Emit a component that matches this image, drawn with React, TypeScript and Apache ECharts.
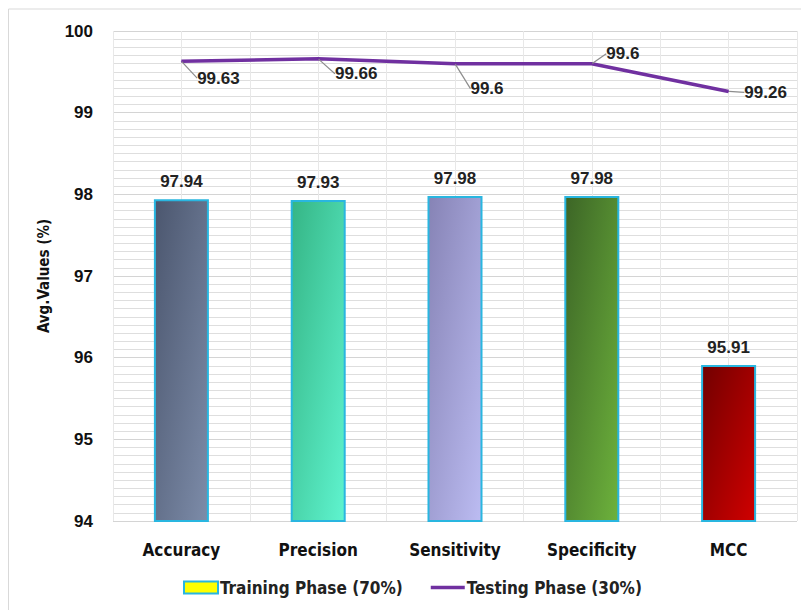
import React, { useEffect, useRef } from "react";
import * as echarts from "echarts";

const categories = ["Accuracy", "Precision", "Sensitivity", "Specificity", "MCC"];
const trainingValues = [97.94, 97.93, 97.98, 97.98, 95.91];
const testingValues = [99.63, 99.66, 99.6, 99.6, 99.26];
const barGradients: [string, string][] = [
  ["#4b566e", "#7d8ca9"],
  ["#35b585", "#5ff4cf"],
  ["#8683b5", "#bcbcf2"],
  ["#3c6526", "#6db23c"],
  ["#720000", "#d00000"],
];
// label shifts for the testing-phase values (dx, dy in px)
const testingLabelShift: [number, number][] = [
  [37, 17],
  [38, 15],
  [32, 25],
  [31, -10],
  [37, 1],
];

const COND = "'DejaVu Sans Condensed', 'Liberation Sans Narrow', sans-serif";
const SANS = "'Liberation Sans', Arial, sans-serif";

export default function App() {
  const ref = useRef<HTMLDivElement>(null);

  useEffect(() => {
    if (!ref.current) return;
    const chart = echarts.init(ref.current, undefined, { renderer: "svg" });

    const barData = trainingValues.map((v, i) => ({
      value: v,
      itemStyle: {
        color: new echarts.graphic.LinearGradient(0, 0, 1, 1, [
          { offset: 0, color: barGradients[i][0] },
          { offset: 1, color: barGradients[i][1] },
        ]),
      },
    }));

    chart.setOption({
      animation: false,
      backgroundColor: "#ffffff",
      graphic: [
        {
          type: "rect",
          shape: { x: 0.5, y: 1, width: 798, height: 620 },
          style: { fill: "none", stroke: "#d9d9d9", lineWidth: 1 },
          silent: true,
          z: -10,
        },
      ],
      grid: { left: 105, top: 23, right: 12, bottom: 89, containLabel: false },
      legend: {
        left: 170,
        top: 566,
        itemWidth: 34,
        itemHeight: 12,
        itemGap: 28,
        textStyle: { fontFamily: COND, fontSize: 17, fontWeight: "bold", color: "#222", padding: [0, 0, 0, -3] },
        data: [
          {
            name: "Training Phase (70%)",
            icon: "rect",
            itemStyle: { color: "#ffff00", borderColor: "#29b6e0", borderWidth: 2 },
          },
          {
            name: "Testing Phase (30%)",
            icon: "path://M0 0H34V3.5H0Z",
            itemStyle: { color: "#7030a0" },
          },
        ],
      },
      xAxis: [
        {
          type: "category",
          data: categories,
          axisLine: { show: false },
          axisTick: { show: false },
          axisLabel: {
            margin: 20,
            fontFamily: COND,
            fontSize: 17,
            fontWeight: "bold",
            color: "#111",
          },
          splitLine: { show: true, lineStyle: { color: "#d4d4d4", width: 1 } },
        },
        {
          type: "value",
          min: 0,
          max: 10,
          interval: 1,
          show: true,
          position: "bottom",
          axisLine: { show: false },
          axisTick: { show: false },
          axisLabel: { show: false },
          splitLine: { show: true, lineStyle: { color: "#e8e8e8", width: 1 } },
        },
      ],
      yAxis: {
        type: "value",
        min: 94,
        max: 100,
        interval: 1,
        name: "Avg.Values (%)",
        nameLocation: "middle",
        nameGap: 62,
        nameTextStyle: { fontFamily: COND, fontSize: 15, fontWeight: "bold", color: "#111" },
        axisLine: { show: false },
        axisTick: { show: false },
        axisLabel: { margin: 20, fontFamily: SANS, fontSize: 17, fontWeight: "bold", color: "#111" },
        splitLine: { show: true, lineStyle: { color: "#d4d4d4", width: 1 } },
        minorTick: { show: false, splitNumber: 10 },
        minorSplitLine: { show: true, lineStyle: { color: "#dedede", width: 1 } },
      },
      series: [
        {
          name: "Training Phase (70%)",
          type: "bar",
          xAxisIndex: 0,
          data: barData,
          barWidth: 55,
          itemStyle: { borderColor: "#29b6e0", borderWidth: 2 },
          label: {
            show: true,
            position: "top",
            distance: 9,
            fontFamily: SANS,
            fontSize: 17,
            fontWeight: "bold",
            color: "#222",
          },
          z: 3,
        },
        {
          name: "Testing Phase (30%)",
          type: "line",
          xAxisIndex: 0,
          data: testingValues,
          symbol: "circle",
          symbolSize: 1,
          showSymbol: true,
          lineStyle: { color: "#7030a0", width: 3.5 },
          itemStyle: { color: "#7030a0" },
          label: {
            show: true,
            position: "inside",
            fontFamily: SANS,
            fontSize: 17,
            fontWeight: "bold",
            color: "#222",
          },
          labelLine: { show: true, lineStyle: { color: "#8c8c8c", width: 1.2 } },
          labelLayout: (params: any) => {
            const s = testingLabelShift[params.dataIndex] || [0, 0];
            return { dx: s[0], dy: s[1] };
          },
          z: 5,
        },
      ],
    });

    return () => chart.dispose();
  }, []);

  return <div ref={ref} style={{ width: 801, height: 602 }} />;
}
